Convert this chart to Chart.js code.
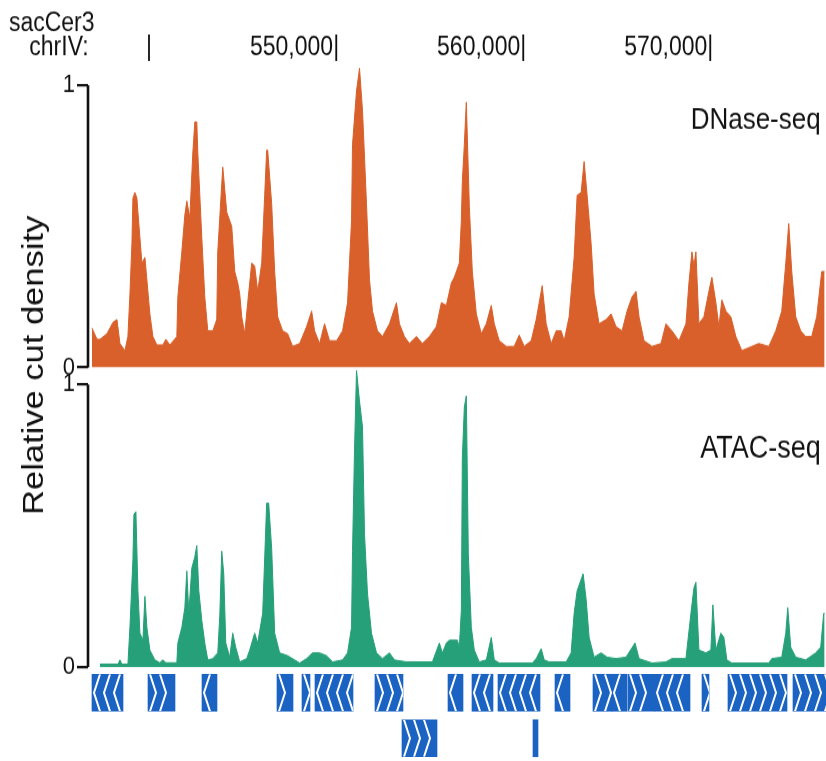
<!DOCTYPE html>
<html><head><meta charset="utf-8">
<script src="https://cdn.jsdelivr.net/npm/chart.js@4.4.1/dist/chart.umd.min.js"></script>
<style>
html,body{margin:0;padding:0;background:#fff;}
#wrap{position:relative;width:826px;height:761px;overflow:hidden;background:#fff;}
#a{position:absolute;left:0;top:0;width:826px;height:600px;transform:scaleY(1.15);transform-origin:0 0;}
#b{position:absolute;left:0;top:667px;width:826px;height:94px;}
</style></head><body>
<div id="wrap"><div id="a"><canvas id="ca"></canvas></div><div id="b"><canvas id="cb"></canvas></div></div>
<script>
// ---- data (chrIV positions in bp, relative cut density) ----
const XMIN = 536577, XMAX = 575957;
const TICK_VALUES = [540000, 550000, 560000, 570000];
const NB = '\u00A0';
const TICK_LABELS = [['sacCer3' + NB.repeat(9), 'chrIV:' + NB.repeat(9) + '|'], '550,000|', '560,000|', '570,000|'];
const Y_TICKS = [0, 1];

const DNASE_POS = [536790,537060,537217,537591,537911,538124,538285,538551,538711,538818,
538925,538978,539085,539192,539245,539352,539458,539619,539725,539885,
540045,540259,540579,540739,540953,541326,541379,541593,541753,541860,
542020,542180,542287,542393,542447,542660,542820,542980,543247,543460,
543514,543727,543781,543994,544261,544421,544581,544688,544794,544955,
545115,545328,545488,545648,545862,546022,546128,546182,546395,546555,
546715,546982,547249,547516,547889,548263,548530,548690,548957,549223,
549490,549864,550184,550451,550664,550717,550931,551091,551251,551464,
551625,551785,552051,552318,552692,553065,553225,553492,553759,554132,
554453,554826,555200,555466,555733,556000,556160,556427,556534,556587,
556694,556800,556961,557121,557334,557601,557868,558134,558294,558561,
558934,559361,559629,559895,560269,560536,560696,560856,561069,561336,
561603,561870,562030,562297,562563,562723,562937,563097,563257,563470,
563631,563897,564271,564538,564804,565125,565392,565658,565872,566032,
566299,566725,567206,567472,567793,568166,568540,568700,568860,568966,
569073,569233,569500,569767,569927,570140,570301,570461,570674,570941,
571207,571528,572061,572435,572969,573342,573662,573876,574036,574196,
574409,574676,574943,575263,575530,575797,575957];
const DNASE_VAL = [0.14,0.10,0.10,0.12,0.16,0.17,0.085,0.06,0.11,0.26,
0.44,0.60,0.62,0.60,0.55,0.46,0.37,0.39,0.31,0.19,
0.11,0.08,0.08,0.10,0.08,0.11,0.25,0.41,0.54,0.59,
0.53,0.76,0.87,0.87,0.76,0.46,0.25,0.13,0.13,0.17,
0.41,0.65,0.71,0.55,0.50,0.34,0.30,0.26,0.18,0.12,
0.23,0.37,0.36,0.27,0.37,0.61,0.77,0.77,0.58,0.34,
0.18,0.13,0.12,0.075,0.085,0.145,0.20,0.13,0.085,0.155,
0.095,0.095,0.13,0.23,0.52,0.79,0.98,1.06,0.91,0.58,
0.31,0.20,0.13,0.11,0.155,0.23,0.155,0.11,0.085,0.11,
0.085,0.11,0.145,0.23,0.22,0.30,0.32,0.37,0.52,0.66,
0.79,0.94,0.57,0.34,0.19,0.12,0.155,0.22,0.155,0.095,
0.075,0.075,0.115,0.075,0.095,0.17,0.23,0.29,0.155,0.085,
0.13,0.13,0.095,0.18,0.39,0.61,0.62,0.73,0.61,0.44,
0.26,0.155,0.17,0.19,0.145,0.13,0.20,0.25,0.27,0.18,
0.095,0.075,0.085,0.155,0.13,0.095,0.155,0.30,0.41,0.36,
0.41,0.155,0.18,0.27,0.32,0.23,0.145,0.24,0.20,0.18,
0.11,0.06,0.075,0.085,0.075,0.13,0.20,0.37,0.51,0.34,
0.18,0.13,0.11,0.11,0.18,0.34,0.34];

const ATAC_POS = [537217,538178,538285,538391,538711,538818,538978,539032,539138,539245,
539352,539512,539619,539725,539885,540152,540419,540579,540739,541326,
541379,541593,541753,541860,541966,542126,542287,542393,542500,542660,
542820,542980,543247,543514,543621,543727,543834,543941,544154,544314,
544474,544688,545061,545221,545488,545648,545915,546128,546235,546395,
546555,546822,547249,547623,547889,548263,548583,548957,549330,549650,
550184,550451,550664,550717,550824,550931,551091,551251,551358,551518,
551731,551998,552318,552692,552959,553599,554986,555360,555520,555733,
555893,556320,556427,556534,556587,556694,556800,556907,557067,557227,
557494,557868,558134,558294,558561,560322,560536,560802,560963,561229,
562136,562403,562563,562723,562937,563044,563203,563364,563631,564004,
564324,564804,565338,565818,566032,566725,567472,567793,568540,568806,
568966,569073,569233,569607,569873,569980,570140,570407,570567,570727,
570994,572969,573129,573662,573876,573982,574142,574409,574943,575476,
575743,575904,575957];
const ATAC_VAL = [0.01,0.01,0.025,0.01,0.01,0.14,0.38,0.54,0.55,0.27,
0.12,0.095,0.25,0.14,0.06,0.025,0.015,0.025,0.015,0.015,
0.085,0.14,0.21,0.34,0.19,0.35,0.39,0.43,0.27,0.165,
0.085,0.025,0.03,0.05,0.18,0.41,0.33,0.085,0.035,0.12,
0.07,0.018,0.03,0.06,0.12,0.085,0.19,0.58,0.58,0.42,
0.12,0.05,0.04,0.025,0.014,0.03,0.05,0.05,0.04,0.018,
0.025,0.05,0.14,0.41,0.77,1.05,0.94,0.85,0.47,0.26,
0.12,0.05,0.03,0.05,0.025,0.018,0.018,0.085,0.05,0.085,
0.095,0.095,0.07,0.2,0.74,0.92,0.96,0.40,0.14,0.06,
0.018,0.025,0.105,0.025,0.014,0.014,0.03,0.065,0.025,0.018,
0.018,0.05,0.19,0.27,0.31,0.33,0.24,0.105,0.035,0.05,
0.035,0.03,0.035,0.085,0.03,0.014,0.018,0.03,0.03,0.19,
0.28,0.30,0.06,0.05,0.06,0.22,0.06,0.12,0.105,0.025,
0.014,0.014,0.03,0.035,0.12,0.21,0.07,0.035,0.025,0.05,
0.07,0.19,0.19];

const GENE_START = [536790,539779,542660,546662,547996,548690,551891,555787,557067,558455,561496,563524,564538,565392,566832,569340,570727,574196,553332,560322];
const GENE_END   = [538445,541219,543460,547516,548423,550717,553385,556587,558188,560696,562297,564538,565338,566832,568700,569714,573876,576500,555200,560589];
const GENE_STRAND = [-1,1,-1,1,1,-1,1,-1,-1,-1,-1,1,-1,1,-1,1,1,1,1,1];
const GENE_ROW = ['row1','row1','row1','row1','row1','row1','row1','row1','row1','row1','row1','row1','row1','row1','row1','row1','row1','row1','row2','row2'];
const ROWS = ['row1','row2'];

// ---- styles ----
const FONT = "'Liberation Sans', Arial, Helvetica, sans-serif";
const TXT = '#111';
const ORANGE = '#d9602b';
const GREEN = '#26a078';
const BLUE = '#1b63c3';
const TITLE_SIZE = 30, TITLE_LH = 1.2, TITLE_PAD = 17;
const YAXIS_W = 88 - (TITLE_SIZE * TITLE_LH + TITLE_PAD);

const trackLabels = {
  id: 'trackLabels',
  afterDatasetsDraw(chart, args, opts) {
    const ctx = chart.ctx;
    ctx.save();
    ctx.fillStyle = opts.color;
    ctx.textAlign = 'right';
    ctx.textBaseline = 'middle';
    opts.items.forEach(it => {
      ctx.font = 'normal ' + it.size + 'px ' + FONT;
      const ds = chart.data.datasets[it.index];
      const sc = chart.scales[ds.yAxisID];
      ctx.fillText(ds.label, chart.chartArea.right - opts.inset, sc.getPixelForValue(it.at));
    });
    ctx.restore();
  }
};

function yAxis(weight, max) {
  return {
    type: 'linear', position: 'left', stack: 'tracks', stackWeight: weight,
    min: 0, max: max,
    afterBuildTicks: s => { s.ticks = Y_TICKS.map(v => ({value: v})); },
    afterFit: s => { s.width = YAXIS_W; s.paddingTop = 0; s.paddingBottom = 0; },
    grid: {display: true, drawOnChartArea: false, drawTicks: true, tickLength: 11, color: '#111', lineWidth: 2.2},
    border: {display: false},
    ticks: {padding: 2, color: TXT, font: {family: FONT, size: 22}, callback: v => String(v)}
  };
}

const lineDs = (label, pos, val, axis, color) => ({
  label, yAxisID: axis,
  data: pos.map((p, i) => ({x: p, y: val[i]})),
  borderColor: color, backgroundColor: color, borderWidth: 1,
  fill: 'origin', pointRadius: 0, tension: 0
});
const axisDs = (axis) => ({
  label: '', yAxisID: axis,
  data: [{x: XMIN, y: 0}, {x: XMIN, y: 1}],
  borderColor: '#111', borderWidth: 2.6, pointRadius: 0, fill: false, clip: false
});

const chartA = new Chart(document.getElementById('ca'), {
  type: 'line',
  data: {datasets: [
    lineDs('DNase-seq', DNASE_POS, DNASE_VAL, 'yD', ORANGE),
    lineDs('ATAC-seq', ATAC_POS, ATAC_VAL, 'yA', GREEN),
    axisDs('yD'), axisDs('yA')
  ]},
  options: {
    responsive: true, maintainAspectRatio: false, animation: false,
    layout: {padding: {top: 7.8, right: 0, bottom: 20, left: 0}},
    plugins: {
      legend: {display: false}, tooltip: {enabled: false},
      title: {display: true, position: 'left', fullSize: false, text: 'Relative cut density', color: TXT,
        font: {family: FONT, size: TITLE_SIZE, weight: 'normal', lineHeight: TITLE_LH}, padding: {top: TITLE_PAD, bottom: 0}},
      trackLabels: {color: TXT, inset: 4, items: [{index: 0, at: 0.873, size: 26}, {index: 1, at: 0.77, size: 27}]}
    },
    scales: {
      x: {
        type: 'linear', position: 'top', min: XMIN, max: XMAX,
        grid: {display: false, drawTicks: false}, border: {display: false},
        afterBuildTicks: s => { s.ticks = TICK_VALUES.map(v => ({value: v})); },
        afterFit: s => { s.paddingLeft = 0; s.paddingRight = 0; },
        ticks: {autoSkip: false, maxRotation: 0, minRotation: 0, align: 'end', padding: 3, color: TXT,
          font: {family: FONT, size: 23, lineHeight: 0.9},
          callback: v => TICK_LABELS[TICK_VALUES.indexOf(v)]}
      },
      yA: yAxis(262, 1.06),
      yD: yAxis(266, 1.077)
    }
  },
  plugins: [trackLabels]
});

const chevrons = {
  id: 'chevrons',
  afterDatasetsDraw(chart) {
    const meta = chart.getDatasetMeta(0);
    const ctx = chart.ctx;
    ctx.save();
    ctx.strokeStyle = '#fff';
    ctx.lineWidth = 2;
    meta.data.forEach((bar, i) => {
      const p = bar.getProps(['x', 'y', 'base', 'height'], true);
      const l = Math.min(p.x, p.base), r = Math.max(p.x, p.base);
      const t = p.y - p.height / 2, b = p.y + p.height / 2;
      ctx.save();
      ctx.beginPath(); ctx.rect(l, t, r - l, b - t); ctx.clip();
      const w = 3 * GENE_STRAND[i];
      ctx.beginPath();
      for (let cx = l + 5; cx < r - 2; cx += 10) {
        ctx.moveTo(cx - w, t); ctx.lineTo(cx + w, p.y); ctx.lineTo(cx - w, b);
      }
      ctx.stroke();
      ctx.restore();
    });
    ctx.restore();
  }
};

new Chart(document.getElementById('cb'), {
  type: 'bar',
  data: {labels: ROWS, datasets: [{
    data: GENE_START.map((s, i) => ({x: [s, GENE_END[i]], y: GENE_ROW[i]})),
    backgroundColor: BLUE, borderWidth: 0, borderSkipped: false, barThickness: 37
  }]},
  options: {
    indexAxis: 'y', responsive: true, maintainAspectRatio: false, animation: false,
    layout: {padding: {left: chartA.chartArea.left, right: 826 - chartA.chartArea.right, top: 3, bottom: 0}},
    plugins: {legend: {display: false}, tooltip: {enabled: false}},
    scales: {
      x: {type: 'linear', min: XMIN, max: XMAX, display: false},
      y: {type: 'category', labels: ROWS, display: false, offset: true, grid: {display: false}}
    }
  },
  plugins: [chevrons]
});
</script>
</body></html>
